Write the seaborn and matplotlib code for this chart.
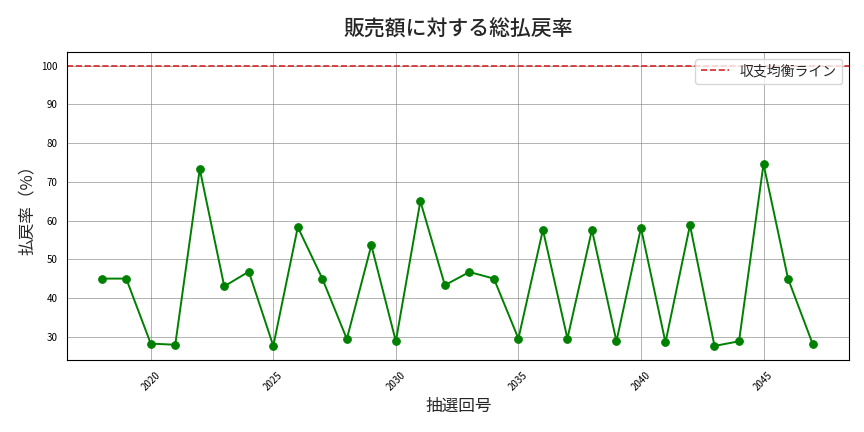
import matplotlib
matplotlib.use("Agg")
import matplotlib.pyplot as plt
import seaborn as sns
import pandas as pd

# draw numbers and payout ratio (%)
draws = list(range(2018, 2048))
payout = [45.0, 45.0, 28.2, 27.9, 73.3, 43.0, 46.8, 27.6, 58.3, 45.0,
          29.4, 53.6, 28.8, 65.0, 43.3, 46.7, 45.0, 29.5, 57.6, 29.5,
          57.6, 28.8, 58.1, 28.5, 58.8, 27.6, 28.8, 74.6, 45.0, 28.2]
breakeven = 100

df = pd.DataFrame({"draw": draws, "payout": payout})

sns.set_style("white")
plt.rcParams['font.family'] = ['Noto Sans CJK JP', 'DejaVu Sans']

fig, ax = plt.subplots(figsize=(8.64, 4.32), dpi=100)
sns.lineplot(data=df, x="draw", y="payout", color="green", marker="o",
             markersize=5.5, linewidth=1.4, markeredgecolor="green", ax=ax)
ax.axhline(breakeven, color="#d62728", linestyle="--", linewidth=1.2, label="収支均衡ライン")

ax.set_title("販売額に対する総払戻率", fontsize=15, pad=12, fontweight="medium")
ax.set_xlabel("抽選回号", fontsize=12)
ax.set_ylabel("払戻率（%）", fontsize=12)
ax.set_xlim(2016.6, 2048.5)
ax.set_ylim(24, 103.6)
ax.set_xticks(range(2020, 2046, 5))
ax.tick_params(axis="x", labelrotation=45, labelsize=7, colors="black")
ax.tick_params(axis="y", labelsize=7, colors="black")
ax.grid(True, color="gray", alpha=0.6, linewidth=0.7)
for s in ax.spines.values():
    s.set_color("black")
ax.legend(loc="upper right", fontsize=10)

fig.subplots_adjust(left=0.078, right=0.983, top=0.88, bottom=0.167)
fig.savefig("out.png")
